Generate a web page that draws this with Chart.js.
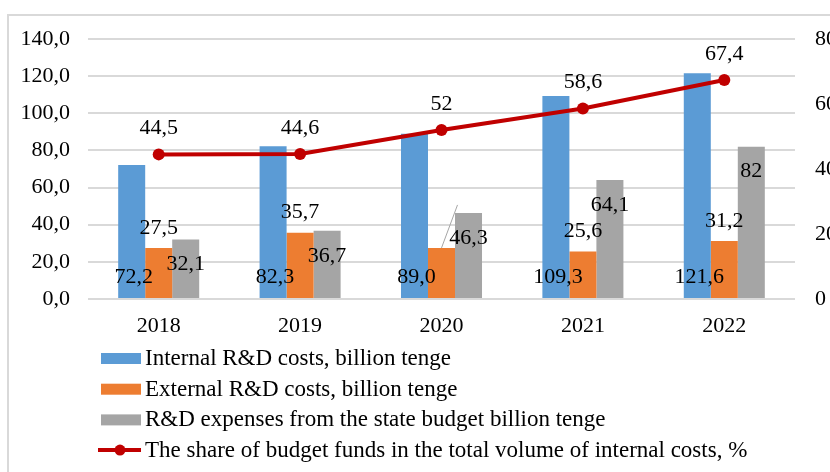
<!DOCTYPE html>
<html>
<head>
<meta charset="utf-8">
<script src="https://cdn.jsdelivr.net/npm/chart.js@4.4.1/dist/chart.umd.min.js"></script>
<style>
  html, body { margin: 0; padding: 0; background: #fff; }
  #wrap { width: 830px; height: 472px; }
</style>
</head>
<body>
<div id="wrap"><canvas id="chart" width="830" height="472"></canvas></div>
<script>
const years = ["2018", "2019", "2020", "2021", "2022"];
const internalCosts = [72.2, 82.3, 89.0, 109.3, 121.6];
const externalCosts = [27.5, 35.7, 27.5, 25.6, 31.2];
const stateBudget = [32.1, 36.7, 46.3, 64.1, 82];
const budgetShare = [44.5, 44.6, 52, 58.6, 67.4];
const leftTicks = [0, 20, 40, 60, 80, 100, 120, 140];
const rightTicks = [0, 20, 40, 60, 80];

const serif = '"Liberation Serif", "Times New Roman", serif';
Chart.defaults.font.family = serif;
Chart.defaults.font.size = 22;
Chart.defaults.color = "#000";

const comma = (v) => String(v).replace(".", ",");

// white background + light frame around the figure
const framePlugin = {
    id: "frame",
    beforeDraw(chart) {
        const ctx = chart.ctx;
        ctx.save();
        ctx.fillStyle = "#fff";
        ctx.fillRect(0, 0, chart.width, chart.height);
        ctx.strokeStyle = "#d9d9d9";
        ctx.lineWidth = 2;
        ctx.strokeRect(8, 15, chart.width + 20, chart.height + 20);
        ctx.restore();
    },
};

// value labels, placed per dataset
const labelPlugin = {
    id: "valueLabels",
    afterDatasetsDraw(chart) {
        const ctx = chart.ctx;
        ctx.save();
        ctx.font = "22px " + serif;
        ctx.fillStyle = "#000";
        ctx.textAlign = "center";
        ctx.textBaseline = "middle";
        chart.data.datasets.forEach((ds, i) => {
            const meta = chart.getDatasetMeta(i);
            meta.data.forEach((el, j) => {
                if (ds.leader && ds.leader.includes(j)) {
                    ctx.strokeStyle = "#a6a6a6";
                    ctx.lineWidth = 1;
                    ctx.beginPath();
                    ctx.moveTo(el.x, el.y);
                    ctx.lineTo(el.x + 16, el.y - 43);
                    ctx.stroke();
                }
                if (ds.hideLabels && ds.hideLabels.includes(j)) return;
                let y;
                if (ds.labelPos === "base") y = el.base - 21;
                else if (ds.labelPos === "above") y = el.y - 20;
                else if (ds.labelPos === "insideTop") y = el.y + 25;
                else y = el.y - 26;
                ctx.fillText(ds.fmt(ds.data[j]), el.x + (ds.labelDx || 0), y);
            });
        });
        ctx.restore();
    },
};

// vertical legend under the axis
const legendPlugin = {
    id: "vLegend",
    afterDraw(chart) {
        const ctx = chart.ctx;
        const items = [0, 1, 2, 3].map((i) => chart.data.datasets[i]);
        let y = chart.chartArea.bottom + 59;
        ctx.save();
        ctx.font = "23px " + serif;
        ctx.textBaseline = "middle";
        ctx.textAlign = "left";
        items.forEach((ds) => {
            if (ds.type === "line") {
                ctx.strokeStyle = ds.borderColor;
                ctx.lineWidth = 4;
                ctx.beginPath();
                ctx.moveTo(98, y);
                ctx.lineTo(141, y);
                ctx.stroke();
                ctx.fillStyle = ds.borderColor;
                ctx.beginPath();
                ctx.arc(120, y, 5.5, 0, Math.PI * 2);
                ctx.fill();
            } else {
                ctx.fillStyle = ds.backgroundColor;
                ctx.fillRect(101, y - 5, 40, 11);
            }
            ctx.fillStyle = "#000";
            ctx.fillText(ds.label, 145, y + 1);
            y += 30.7;
        });
        ctx.restore();
    },
};

new Chart(document.getElementById("chart"), {
    data: {
        labels: years,
        datasets: [
            {
                type: "bar",
                label: "Internal R&D costs, billion tenge",
                data: internalCosts,
                backgroundColor: "#5b9bd5",
                yAxisID: "y",
                order: 2,
                labelPos: "base",
                labelDx: 2,
                fmt: (v) => v.toFixed(1).replace(".", ","),
            },
            {
                type: "bar",
                label: "External R&D costs, billion tenge",
                data: externalCosts,
                backgroundColor: "#ed7d31",
                yAxisID: "y",
                order: 2,
                labelPos: "above",
                hideLabels: [2],
                leader: [2],
                fmt: comma,
            },
            {
                type: "bar",
                label: "R&D expenses from the state budget billion tenge",
                data: stateBudget,
                backgroundColor: "#a5a5a5",
                yAxisID: "y",
                order: 2,
                labelPos: "insideTop",
                fmt: comma,
            },
            {
                type: "line",
                label: "The share of budget funds in the total volume of internal costs, %",
                data: budgetShare,
                borderColor: "#c00000",
                backgroundColor: "#c00000",
                borderWidth: 4,
                pointRadius: 6,
                pointBackgroundColor: "#c00000",
                pointBorderWidth: 0,
                tension: 0,
                yAxisID: "y1",
                order: 1,
                labelPos: "point",
                fmt: comma,
            },
        ],
    },
    options: {
        responsive: false,
        animation: false,
        categoryPercentage: 0.573,
        barPercentage: 1,
        layout: {
            padding: { top: 39, left: 0, right: 0, bottom: 128 },
        },
        plugins: {
            legend: { display: false },
            tooltip: { enabled: false },
        },
        scales: {
            x: {
                grid: { display: false, drawTicks: false },
                border: { display: false },
                ticks: { padding: 14, font: { size: 22 } },
                afterFit(scale) { scale.height = 45; },
            },
            y: {
                position: "left",
                min: 0,
                max: 140,
                afterBuildTicks(scale) { scale.ticks = leftTicks.map((v) => ({ value: v })); },
                grid: { color: "#d9d9d9", lineWidth: 2, drawTicks: false },
                border: { display: false },
                ticks: {
                    padding: 18,
                    font: { size: 22 },
                    callback: (v) => v.toFixed(1).replace(".", ","),
                },
                afterFit(scale) { scale.width = 88; },
            },
            y1: {
                position: "right",
                min: 0,
                max: 80,
                afterBuildTicks(scale) { scale.ticks = rightTicks.map((v) => ({ value: v })); },
                grid: { display: false, drawTicks: false },
                border: { display: false },
                ticks: { padding: 20, font: { size: 22 } },
                afterFit(scale) { scale.width = 35; },
            },
        },
    },
    plugins: [framePlugin, labelPlugin, legendPlugin],
});
</script>
</body>
</html>
